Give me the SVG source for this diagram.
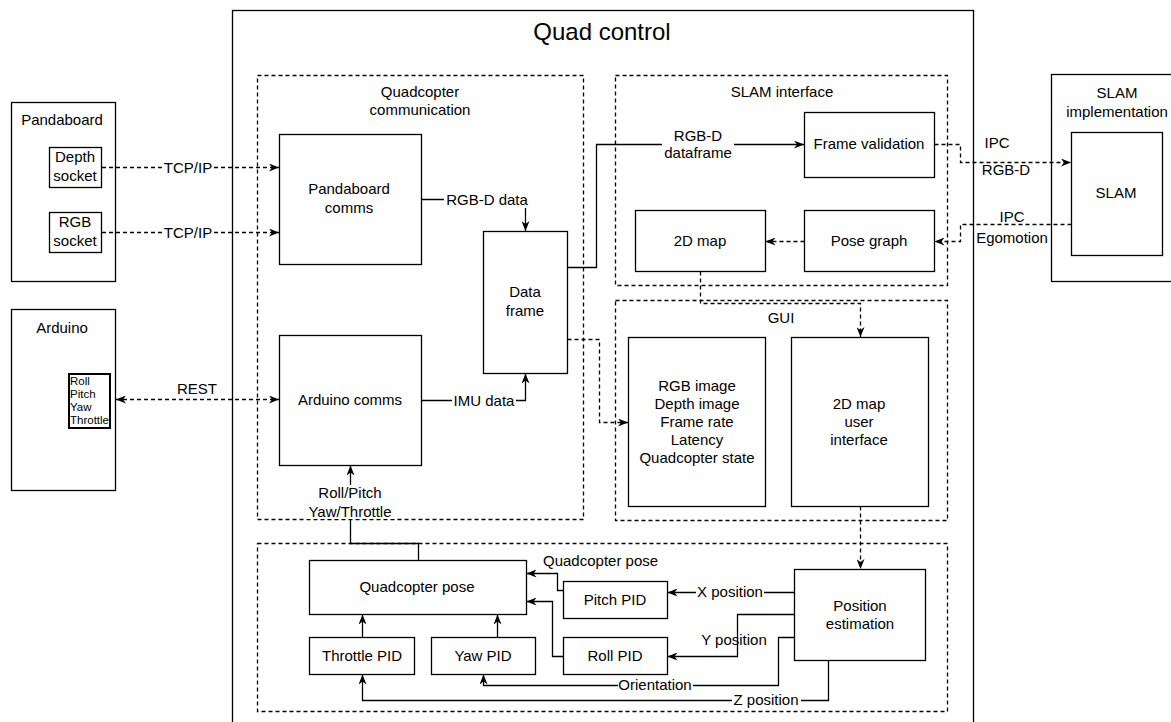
<svg xmlns="http://www.w3.org/2000/svg" width="1171" height="722" viewBox="0 0 1171 722">
<defs>
<marker id="arr" viewBox="0 0 10 8" refX="10" refY="4" markerWidth="10" markerHeight="8" markerUnits="userSpaceOnUse" orient="auto-start-reverse">
<path d="M0,0 L10,4 L0,8 L3,4 Z" fill="#000"/>
</marker>
<style>
.box{fill:#fff;stroke:#000;stroke-width:1.3}
.grp{fill:none;stroke:#000;stroke-width:1.3;stroke-dasharray:4 3}
.c{fill:none;stroke:#000;stroke-width:1.3;marker-end:url(#arr)}
.d{stroke-dasharray:4 3}
.p{fill:none;stroke:#000;stroke-width:1.3}
text{font-family:"Liberation Sans",Arial,sans-serif;font-size:15px;fill:#000;text-anchor:middle}
.s{font-size:11.5px;text-anchor:start}
.bg{fill:#fff}
</style>
</defs>
<rect width="1171" height="722" fill="#fff"/>

<g id="quad-control">
<rect x="232.5" y="10.5" width="741" height="730" fill="none" stroke="#000" stroke-width="1.3"/>
<text x="602" y="40" style="font-size:24px">Quad control</text>
</g>

<g id="quadcopter-communication">
<rect class="grp" x="257.5" y="75.5" width="326" height="444"/>
<text x="420" y="97">Quadcopter</text>
<text x="420" y="115">communication</text>
</g>
<g id="slam-interface">
<rect class="grp" x="615.5" y="75.5" width="332" height="210"/>
<text x="782" y="97">SLAM interface</text>
</g>
<g id="gui">
<rect class="grp" x="615.5" y="300.5" width="332" height="220"/>
<text x="781" y="323">GUI</text>
</g>
<g id="control-loop">
<rect class="grp" x="257.5" y="543.5" width="690" height="168"/>
</g>

<g id="pandaboard">
<rect class="box" x="11.5" y="102.5" width="104" height="179"/>
<text x="62" y="125">Pandaboard</text>
</g>
<g id="depth-socket">
<rect class="box" x="49.5" y="147.5" width="52" height="40"/>
<text x="75" y="162">Depth</text>
<text x="75" y="181">socket</text>
</g>
<g id="rgb-socket">
<rect class="box" x="49.5" y="212.5" width="52" height="40"/>
<text x="75" y="227">RGB</text>
<text x="75" y="246">socket</text>
</g>
<g id="arduino">
<rect class="box" x="11.5" y="309.5" width="104" height="181"/>
<text x="62" y="333">Arduino</text>
</g>
<g id="arduino-values">
<rect x="69" y="374" width="41" height="54" fill="#fff" stroke="#000" stroke-width="2"/>
<text class="s" x="70" y="385">Roll</text>
<text class="s" x="70" y="398">Pitch</text>
<text class="s" x="70" y="411">Yaw</text>
<text class="s" x="70" y="424">Throttle</text>
</g>

<g id="pandaboard-comms">
<rect class="box" x="279.5" y="134.5" width="142" height="130"/>
<text x="349" y="194">Pandaboard</text>
<text x="349" y="213">comms</text>
</g>
<g id="arduino-comms">
<rect class="box" x="279.5" y="335.5" width="142" height="130"/>
<text x="350" y="405">Arduino comms</text>
</g>
<g id="data-frame">
<rect class="box" x="483.5" y="231.5" width="84" height="142"/>
<text x="525" y="297">Data</text>
<text x="525" y="316">frame</text>
</g>

<g id="frame-validation">
<rect class="box" x="804.5" y="112.5" width="130" height="65"/>
<text x="869" y="149">Frame validation</text>
</g>
<g id="map-2d">
<rect class="box" x="635.5" y="210.5" width="130" height="61"/>
<text x="700" y="246">2D map</text>
</g>
<g id="pose-graph">
<rect class="box" x="804.5" y="210.5" width="130" height="61"/>
<text x="869" y="246">Pose graph</text>
</g>

<g id="slam-implementation">
<rect class="box" x="1051.5" y="74.5" width="130" height="207"/>
<text x="1117" y="98">SLAM</text>
<text x="1117" y="117">implementation</text>
</g>
<g id="slam">
<rect class="box" x="1071.5" y="132.5" width="91" height="123"/>
<text x="1116" y="198">SLAM</text>
</g>

<g id="gui-status">
<rect class="box" x="628.5" y="337.5" width="137" height="169"/>
<text x="697" y="391">RGB image</text>
<text x="697" y="409">Depth image</text>
<text x="697" y="427">Frame rate</text>
<text x="697" y="445">Latency</text>
<text x="697" y="463">Quadcopter state</text>
</g>
<g id="map-ui">
<rect class="box" x="791.5" y="337.5" width="137" height="169"/>
<text x="859" y="409">2D map</text>
<text x="859" y="427">user</text>
<text x="859" y="445">interface</text>
</g>

<g id="quadcopter-pose">
<rect class="box" x="309.5" y="560.5" width="217" height="54"/>
<text x="417" y="592">Quadcopter pose</text>
</g>
<g id="throttle-pid">
<rect class="box" x="309.5" y="637.5" width="105" height="37"/>
<text x="362" y="661">Throttle PID</text>
</g>
<g id="yaw-pid">
<rect class="box" x="431.5" y="637.5" width="104" height="37"/>
<text x="483" y="661">Yaw PID</text>
</g>
<g id="pitch-pid">
<rect class="box" x="563.5" y="581.5" width="104" height="37"/>
<text x="615" y="605">Pitch PID</text>
</g>
<g id="roll-pid">
<rect class="box" x="563.5" y="637.5" width="104" height="37"/>
<text x="615" y="661">Roll PID</text>
</g>
<g id="position-estimation">
<rect class="box" x="794.5" y="569.5" width="131" height="91"/>
<text x="860" y="611">Position</text>
<text x="860" y="629">estimation</text>
</g>

<g id="connectors">
<path class="c d" d="M102,167.5 H279"/>
<path class="c d" d="M102,232.5 H279"/>
<path class="c d" d="M116,399.5 H279" style="marker-start:url(#arr)"/>
<path class="c" d="M421.5,199.5 H525.5 V231"/>
<path class="c" d="M421.5,400.5 H525.5 V373.5"/>
<path class="c" d="M418.5,560 V543.5 H350.5 V465.5"/>
<path class="c" d="M567.5,267.5 H596.5 V144.5 H804"/>
<path class="c d" d="M934.5,144.5 H960.5 V162.5 H1071"/>
<path class="c d" d="M1071.5,224.5 H960.5 V241.5 H934.5"/>
<path class="c d" d="M804.5,241.5 H765.5"/>
<path class="c d" d="M700.5,271.5 V303.5 H860.5 V337"/>
<path class="c d" d="M567.5,339.5 H599.5 V422.5 H628"/>
<path class="c d" d="M860.5,506.5 V569"/>
<path class="c" d="M362.5,637.5 V614.5"/>
<path class="c" d="M497.5,637.5 V614.5"/>
<path class="c" d="M563.5,590.5 H557.5 V573.5 H526.5"/>
<path class="c" d="M563.5,656.5 H552.5 V601.5 H526.5"/>
<path class="c" d="M794.5,592.5 H667.5"/>
<path class="c" d="M794.5,614.5 H737.5 V656.5 H667.5"/>
<path class="c" d="M794.5,637.5 H778.5 V685.5 H483.5 V674.5"/>
<path class="c" d="M828.5,660.5 V700.5 H362.5 V674.5"/>

<rect class="bg" x="162" y="159" width="52" height="17"/>
<text x="188" y="173">TCP/IP</text>
<rect class="bg" x="162" y="224" width="52" height="17"/>
<text x="188" y="238">TCP/IP</text>
<text x="197" y="394">REST</text>
<rect class="bg" x="444" y="191" width="86" height="17"/>
<text x="487" y="205">RGB-D data</text>
<rect class="bg" x="452" y="392" width="64" height="17"/>
<text x="484" y="406">IMU data</text>
<rect class="bg" x="306" y="485" width="88" height="34"/>
<text x="350" y="498">Roll/Pitch</text>
<text x="350" y="517">Yaw/Throttle</text>
<rect class="bg" x="662" y="128" width="72" height="33"/>
<text x="698" y="141">RGB-D</text>
<text x="698" y="158">dataframe</text>
<text x="997" y="148">IPC</text>
<text x="1006" y="175">RGB-D</text>
<rect class="bg" x="998" y="211" width="28" height="12"/>
<text x="1012" y="222">IPC</text>
<text x="1012" y="243">Egomotion</text>
<text x="543" y="566" style="text-anchor:start">Quadcopter pose</text>
<rect class="bg" x="696" y="585" width="68" height="16"/>
<text x="730" y="597">X position</text>
<text x="734" y="645">Y position</text>
<rect class="bg" x="618" y="678" width="75" height="16"/>
<text x="655" y="690">Orientation</text>
<rect class="bg" x="732" y="693" width="69" height="16"/>
<text x="766" y="705">Z position</text>
</g>
</svg>
